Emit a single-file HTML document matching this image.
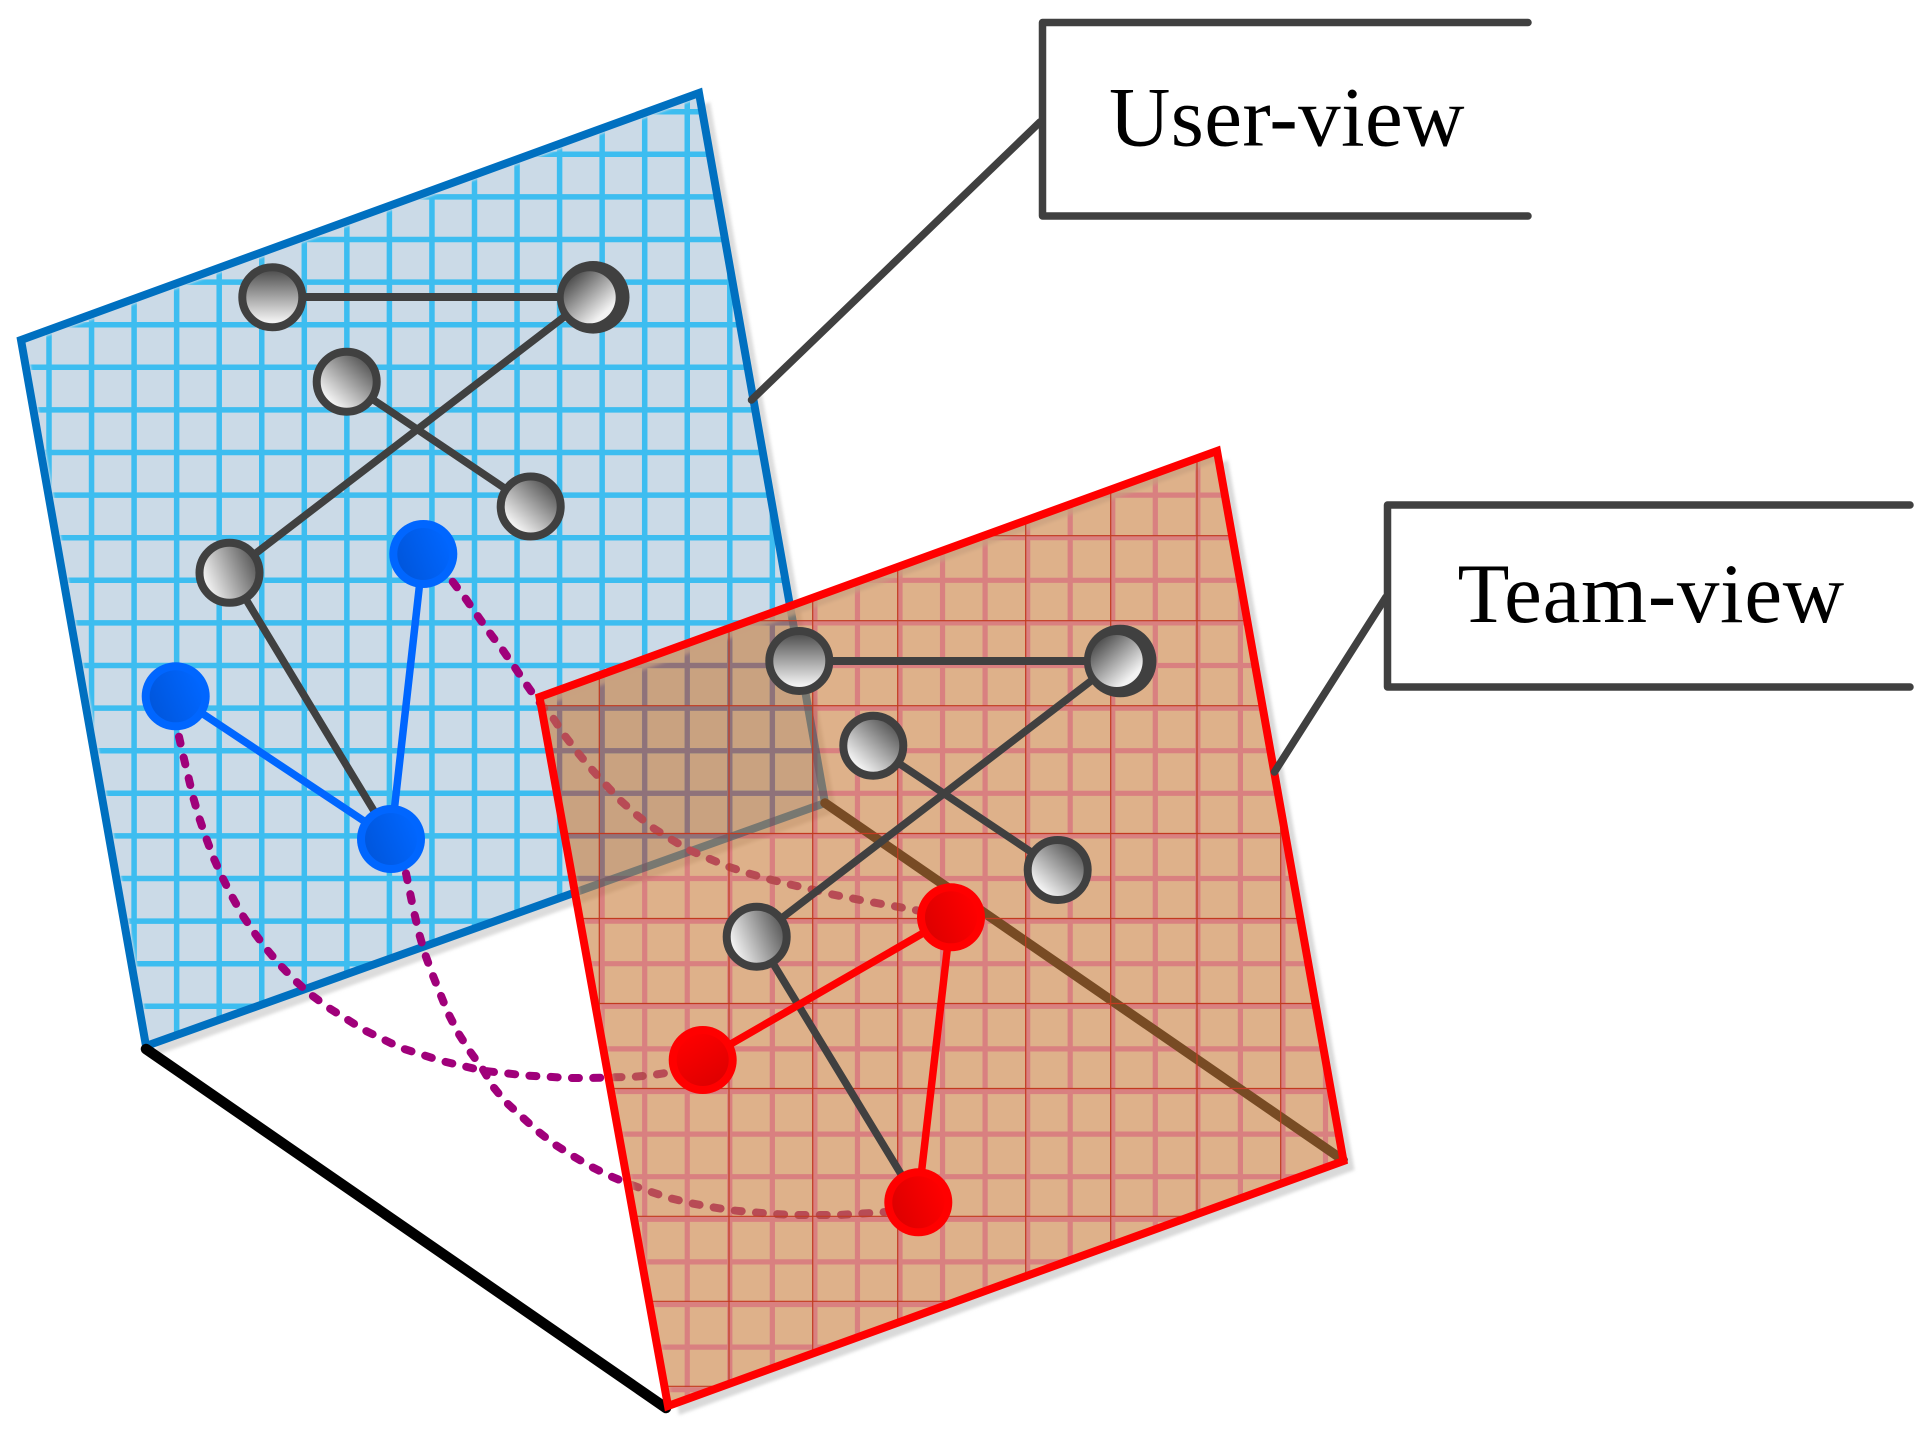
<!DOCTYPE html>
<html>
<head>
<meta charset="utf-8">
<title>User-view and Team-view</title>
<style>
html,body{margin:0;padding:0;background:#fff;}
svg{display:block;}
text{font-family:"Liberation Serif",serif;font-size:85px;fill:#000;}
</style>
</head>
<body>
<svg xmlns="http://www.w3.org/2000/svg" width="1928" height="1433" viewBox="0 0 1928 1433">
<defs>
<clipPath id="cb"><polygon points="21,340 699,93 825,803 146,1046"/></clipPath>
<clipPath id="cr"><polygon points="539.5,697 1217,451 1343.5,1161 668,1406"/></clipPath>
<filter id="sh" x="-5%" y="-5%" width="110%" height="110%"><feGaussianBlur stdDeviation="1.6"/></filter>
<filter id="bl" filterUnits="userSpaceOnUse" x="0" y="0" width="1928" height="1433"><feGaussianBlur stdDeviation="1"/></filter>
<filter id="bl2" filterUnits="userSpaceOnUse" x="0" y="0" width="1928" height="1433"><feGaussianBlur stdDeviation="1.6"/></filter>
<linearGradient id="gv" x1="0" y1="0" x2="0" y2="1"><stop offset="0.05" stop-color="#4f4f4f"/><stop offset="0.9" stop-color="#f2f2f2"/></linearGradient>
<linearGradient id="gtl" x1="0.15" y1="0.12" x2="0.85" y2="0.88"><stop offset="0" stop-color="#4f4f4f"/><stop offset="0.9" stop-color="#f2f2f2"/></linearGradient>
<linearGradient id="gtr" x1="0.85" y1="0.12" x2="0.15" y2="0.88"><stop offset="0" stop-color="#4f4f4f"/><stop offset="0.9" stop-color="#f2f2f2"/></linearGradient>
<linearGradient id="gr" x1="1" y1="0.3" x2="0" y2="0.7"><stop offset="0" stop-color="#4f4f4f"/><stop offset="0.9" stop-color="#f2f2f2"/></linearGradient>
<linearGradient id="bd" x1="0" y1="0.7" x2="1" y2="0.3"><stop offset="0" stop-color="#0056dc"/><stop offset="1" stop-color="#0066ff"/></linearGradient>
<linearGradient id="rd" x1="0" y1="0.7" x2="1" y2="0.3"><stop offset="0" stop-color="#dd0000"/><stop offset="1" stop-color="#ff0000"/></linearGradient>
<linearGradient id="rd2" x1="0.2" y1="0" x2="0.8" y2="1"><stop offset="0" stop-color="#ff0000"/><stop offset="1" stop-color="#dd0000"/></linearGradient>
</defs>

<rect width="1928" height="1433" fill="#fff"/>

<!-- shadows -->
<polygon points="539.5,697 1217,451 1343.5,1161 668,1406" fill="#d9d9d9" transform="translate(11,9)" filter="url(#sh)"/>
<polygon points="539.5,697 1217,451 1343.5,1161 668,1406" fill="#fff"/>
<polygon points="21,340 699,93 825,803 146,1046" fill="#dcdcdc" transform="translate(11,9)" filter="url(#sh)"/>

<!-- blue plane -->
<polygon points="21,340 699,93 825,803 146,1046" fill="#cbdae7"/>
<g clip-path="url(#cb)">
<path fill="none" stroke="#3dbdf0" stroke-width="5.5" d="M49 0V1100M91.55 0V1100M134.1 0V1100M176.65 0V1100M219.2 0V1100M261.75 0V1100M304.3 0V1100M346.85 0V1100M389.4 0V1100M431.95 0V1100M474.5 0V1100M517.05 0V1100M559.6 0V1100M602.15 0V1100M644.7 0V1100M687.25 0V1100M729.8 0V1100M772.35 0V1100M814.9 0V1100
M0 111.7H900M0 154.3H900M0 196.9H900M0 239.5H900M0 282.1H900M0 324.7H900M0 367.3H900M0 409.9H900M0 452.5H900M0 495.1H900M0 537.7H900M0 580.3H900M0 622.9H900M0 665.5H900M0 708.1H900M0 750.7H900M0 793.3H900M0 835.9H900M0 878.5H900M0 921.1H900M0 963.7H900M0 1006.3H900"/>
<polyline points="146,1046 21,340 699,93" fill="none" stroke="#cbdae7" stroke-width="10" filter="url(#bl)"/>
</g>
<polygon points="21,340 699,93 825,803 146,1046" fill="none" stroke="#0070c0" stroke-width="8" stroke-linejoin="miter"/>

<!-- axes -->
<path d="M146,1049L666,1408" stroke="#000" stroke-width="10.5" stroke-linecap="round" fill="none"/>
<path d="M825,803L1343,1160" stroke="#000" stroke-width="9.5" stroke-linecap="round" fill="none"/>

<!-- user graph edges -->
<path d="M272,297H590" stroke="#404040" stroke-width="8" fill="none"/>
<path d="M230,573L590,297M347,382L531,506M230,573L391,839" stroke="#404040" stroke-width="7.5" fill="none"/>

<!-- dashed curves -->
<g fill="none" stroke="#a0007a" stroke-width="8" stroke-dasharray="7 14.3" stroke-linecap="round" stroke-linejoin="round">
<path d="M179,736.7L183.3,756L188.3,776.7L193.3,797.7L199,817.3L206,837.7L213.3,857.3L222.3,877.3L231.7,896L242.3,915L254,932.3L266.7,949.3L280.3,965.3L295.3,980.7L310,994L329.6,1008.4L364,1030L401,1048L441.8,1061L482.7,1070.7L526,1075.5L569.4,1078L590,1078L635,1076.7L653,1075L672,1072"/>
<path d="M406,873.3L410,892.7L414.3,913.3L419.3,934.3L425,954L432.3,974L439.5,992L448,1013L458.7,1033.8L470,1051.5L482.7,1069L492.9,1086.5L505.6,1101.9L521,1116L537,1130.6L554,1144L572,1155.5L591,1166.6L610,1176L631.7,1185L649.3,1191.3L669.3,1198L690,1203L711,1207L731.7,1210.3L753.3,1212.3L774,1214L795.7,1215L816.7,1215L838.3,1215L860,1213.7L885,1212"/>
<path d="M452.7,581.7L465.7,598.7L477.7,616L490,633.3L502.7,650L515,667.7L526.7,685L537.3,700L553.3,718.3L565,736L578.3,753.3L591.7,769.3L606,785L620.7,800.7L636.7,815L652.7,827.7L671,839.3L689.3,850L708.3,858.3L728.3,866.7L748.3,873.3L768.3,879L789.3,884.3L810,889L830,894L851.7,898.3L872.3,902.3L893.3,906L920,911"/>
</g>

<!-- user nodes -->
<path d="M176,696L391,839M423,554L391,839" stroke="#0066ff" stroke-width="7.5" fill="none"/>
<circle cx="272.3" cy="297.3" r="30" fill="url(#gv)" stroke="#404040" stroke-width="8"/>
<circle cx="593.2" cy="297.3" r="36.3" fill="#404040"/><circle cx="589.7" cy="297.3" r="26" fill="url(#gtl)"/>
<circle cx="346.7" cy="381.7" r="30" fill="url(#gtr)" stroke="#404040" stroke-width="8"/>
<circle cx="530.7" cy="506.5" r="30" fill="url(#gtr)" stroke="#404040" stroke-width="8"/>
<circle cx="229.5" cy="572.8" r="30" fill="url(#gr)" stroke="#404040" stroke-width="8"/>
<circle cx="423.3" cy="554" r="34" fill="#0066ff"/><circle cx="423.3" cy="554" r="26" fill="url(#bd)"/>
<circle cx="175.7" cy="696.3" r="34" fill="#0066ff"/><circle cx="175.7" cy="696.3" r="26" fill="url(#bd)"/>
<circle cx="391" cy="839" r="34" fill="#0066ff"/><circle cx="391" cy="839" r="26" fill="url(#bd)"/>

<!-- red plane: grid beneath translucent orange -->
<path clip-path="url(#cr)" style="mix-blend-mode:multiply" fill="none" stroke="#f284e6" stroke-width="5.2" d="M559.6 400V1450M602.15 400V1450M644.7 400V1450M687.25 400V1450M729.8 400V1450M772.35 400V1450M814.9 400V1450M857.45 400V1450M900 400V1450M942.55 400V1450M985.1 400V1450M1027.65 400V1450M1070.2 400V1450M1112.75 400V1450M1155.3 400V1450M1197.85 400V1450M1240.4 400V1450M1282.95 400V1450M1325.5 400V1450
M500 495.1H1400M500 537.7H1400M500 580.3H1400M500 622.9H1400M500 665.5H1400M500 708.1H1400M500 750.7H1400M500 793.3H1400M500 835.9H1400M500 878.5H1400M500 921.1H1400M500 963.7H1400M500 1006.3H1400M500 1048.9H1400M500 1091.5H1400M500 1134.1H1400M500 1176.7H1400M500 1219.3H1400M500 1261.9H1400M500 1304.5H1400M500 1347.1H1400M500 1389.7H1400"/>
<g clip-path="url(#cr)">
<line x1="539.5" y1="697" x2="1217" y2="451" stroke="#cbd6e6" stroke-width="20" stroke-opacity="0.7" filter="url(#bl2)"/>
<line x1="570" y1="870" x2="668" y2="1406" stroke="#fff" stroke-width="10" stroke-opacity="0.7" filter="url(#bl2)"/>
</g>
<polygon points="539.5,697 1217,451 1343.5,1161 668,1406" fill="#c87d3c" fill-opacity="0.6"/>
<g clip-path="url(#cr)">
<path fill="none" stroke="#c23a20" stroke-width="1.2" d="M599.3 400V1450M729 400V1450M812.7 400V1450M897.7 400V1450M1025.7 400V1450M1110.7 400V1450M1197 400V1450M1280.7 400V1450
M500 535.7H1400M500 620.7H1400M500 705.7H1400M500 833.5H1400M500 918.5H1400M500 1003.5H1400M500 1088.5H1400M500 1216.3H1400M500 1301.3H1400M500 1386.3H1400"/>
</g>
<polygon points="539.5,697 1217,451 1343.5,1161 668,1406" fill="none" stroke="#ff0000" stroke-width="8" stroke-linejoin="miter"/>

<!-- team graph -->
<path d="M799,661H1117" stroke="#404040" stroke-width="8" fill="none"/>
<path d="M757,937L1117,661M873,746L1058,870M757,937L918,1202" stroke="#404040" stroke-width="7.5" fill="none"/>
<path d="M703,1060L951,917M951,917L918,1202" stroke="#ff0000" stroke-width="7.5" fill="none"/>
<circle cx="799.3" cy="661" r="30" fill="url(#gv)" stroke="#404040" stroke-width="8"/>
<circle cx="1120.2" cy="661" r="36.3" fill="#404040"/><circle cx="1116.7" cy="661" r="26" fill="url(#gtl)"/>
<circle cx="873.3" cy="745.7" r="30" fill="url(#gtr)" stroke="#404040" stroke-width="8"/>
<circle cx="1057.7" cy="870" r="30" fill="url(#gtr)" stroke="#404040" stroke-width="8"/>
<circle cx="756.7" cy="936.7" r="30" fill="url(#gr)" stroke="#404040" stroke-width="8"/>
<circle cx="951" cy="917.3" r="34" fill="#ff0000"/><circle cx="951" cy="917.3" r="26" fill="url(#rd)"/>
<circle cx="702.7" cy="1060" r="34" fill="#ff0000"/><circle cx="702.7" cy="1060" r="26" fill="url(#rd2)"/>
<circle cx="918.3" cy="1202.3" r="34" fill="#ff0000"/><circle cx="918.3" cy="1202.3" r="26" fill="url(#rd)"/>

<!-- callouts -->
<g fill="none" stroke="#404040" stroke-width="7.5" stroke-linecap="round" stroke-linejoin="round">
<path d="M1528,22.5H1042.5V216H1528"/>
<path d="M1910,505H1387.5V687H1910"/>
<path d="M1040,122L751.5,400"/>
<path d="M1386,597L1274.5,772"/>
</g>
<text x="1109" y="145.5" letter-spacing="0.4">User-view</text>
<text x="1457.5" y="622" letter-spacing="0.7">Team-view</text>
</svg>
</body>
</html>
